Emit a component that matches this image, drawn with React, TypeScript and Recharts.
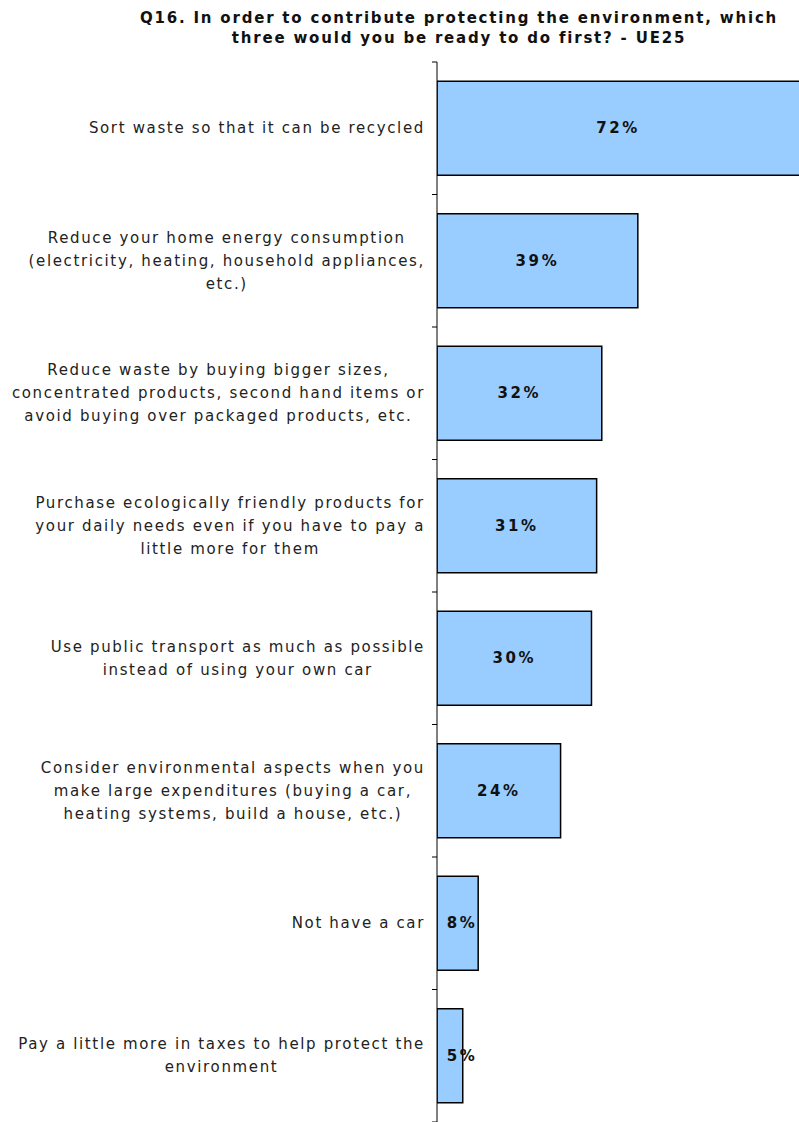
import { Bar, BarChart, LabelList, XAxis, YAxis } from "recharts";

const categories = [
  "Sort waste so that it can be recycled",
  "Reduce your home energy consumption\n(electricity, heating, household appliances,\netc.)",
  "Reduce waste by buying bigger sizes,\nconcentrated products, second hand items or\navoid buying over packaged products, etc.",
  "Purchase ecologically friendly products for\nyour daily needs even if you have to pay a\nlittle more for them",
  "Use public transport as much as possible\ninstead of using your own car",
  "Consider environmental aspects when you\nmake large expenditures (buying a car,\nheating systems, build a house, etc.)",
  "Not have a car",
  "Pay a little more in taxes to help protect the\nenvironment",
];
const values = [72, 39, 32, 31, 30, 24, 8, 5];

const data = categories.map((name, i) => ({ name, value: values[i] }));

const W = 799;
const H = 1122;
const TOP = 62;
const AXIS_X = 437;
const BAND = (H - TOP) / categories.length;
const FONT = "Verdana, 'DejaVu Sans', sans-serif";
const LABEL_SIZE = 15;
const LABEL_SPACING = 1.65;
const LINE_H = 23;

let ctx: CanvasRenderingContext2D | null = null;
function textWidth(s: string, font: string, spacing: number) {
  if (!ctx) ctx = document.createElement("canvas").getContext("2d");
  if (!ctx) return s.length * 8;
  ctx.font = font;
  return ctx.measureText(s).width + spacing * s.length;
}

function CategoryTick(props: any) {
  const { y, payload, index } = props;
  const lines = String(payload.value).split("\n");
  const font = `${LABEL_SIZE}px ${FONT}`;
  const blockW = Math.max(...lines.map((l) => textWidth(l, font, LABEL_SPACING)));
  const cx = 425 - blockW / 2;
  const y0 = y - ((lines.length - 1) * LINE_H) / 2;
  return (
    <g>
      <line x1={AXIS_X - 5} x2={AXIS_X} y1={y - BAND / 2} y2={y - BAND / 2} stroke="#000" />
      {index === categories.length - 1 && (
        <line x1={AXIS_X - 5} x2={AXIS_X} y1={y + BAND / 2} y2={y + BAND / 2} stroke="#000" />
      )}
      <text
        textAnchor="middle"
        fontFamily={FONT}
        fontSize={LABEL_SIZE}
        letterSpacing={LABEL_SPACING}
        fill="#222"
      >
        {lines.map((l, i) => (
          <tspan key={i} x={cx} y={y0 + i * LINE_H} dominantBaseline="central">
            {l}
          </tspan>
        ))}
      </text>
    </g>
  );
}

function ValueLabel(props: any) {
  const { x, y, width, height, value } = props;
  const visible = Math.min(width, W - x);
  const cx = x + Math.max(visible / 2, 25);
  return (
    <text
      x={cx}
      y={y + height / 2}
      textAnchor="middle"
      dominantBaseline="central"
      fontFamily={FONT}
      fontWeight="bold"
      fontSize={15}
      letterSpacing={2.6}
      fill="#111"
    >
      {value}%
    </text>
  );
}

export default function App() {
  return (
    <div style={{ position: "absolute", left: 0, top: 0, width: W, height: H, background: "#fff" }}>
      <div
        style={{
          position: "absolute",
          left: 119,
          top: 8,
          width: 680,
          textAlign: "center",
          fontFamily: FONT,
          fontWeight: "bold",
          fontSize: 15,
          lineHeight: "20px",
          letterSpacing: 1.8,
          color: "#111",
        }}
      >
        Q16. In order to contribute protecting the environment, which
        <br />
        three would you be ready to do first? - UE25
      </div>
      <BarChart
        width={W}
        height={H}
        data={data}
        layout="vertical"
        margin={{ top: TOP, right: 0, bottom: 0, left: 0 }}
        barCategoryGap="14.5%"
      >
        <XAxis type="number" hide domain={[0, 70.3]} allowDataOverflow />
        <YAxis
          type="category"
          dataKey="name"
          width={AXIS_X}
          axisLine={{ stroke: "#000" }}
          tickLine={false}
          tick={<CategoryTick />}
          interval={0}
        />
        <Bar dataKey="value" fill="#99ccff" stroke="#000" strokeWidth={1.5} isAnimationActive={false}>
          <LabelList dataKey="value" content={<ValueLabel />} />
        </Bar>
      </BarChart>
    </div>
  );
}
